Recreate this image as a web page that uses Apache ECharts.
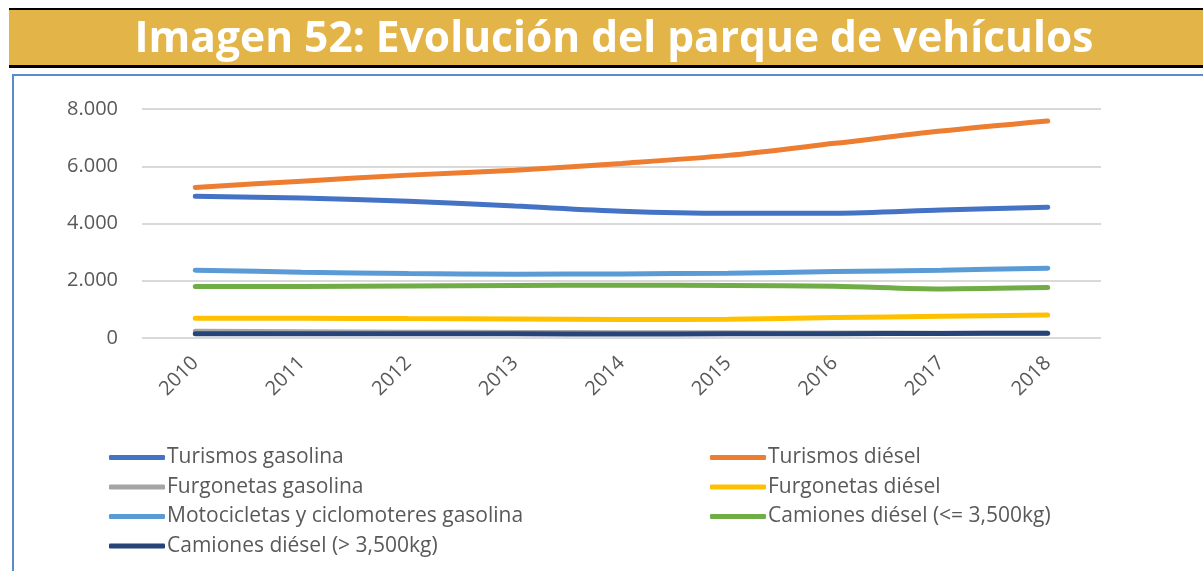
<!DOCTYPE html>
<html>
<head>
<meta charset="utf-8">
<script src="https://cdn.jsdelivr.net/npm/echarts@6/dist/echarts.min.js"></script>
<style>
  html, body { margin: 0; padding: 0; background: #ffffff; }
  #chart { width: 1203px; height: 571px; }
</style>
</head>
<body>
<div id="chart"></div>
<script>
// datos
var years = ['2010', '2011', '2012', '2013', '2014', '2015', '2016', '2017', '2018'];
var yTicks = [0, 2000, 4000, 6000, 8000];

var turismosGasolina = [4950, 4890, 4780, 4610, 4430, 4360, 4360, 4470, 4570];
var turismosDiesel = [5260, 5480, 5690, 5860, 6100, 6380, 6800, 7230, 7580];
var furgonetasGasolina = [235, 220, 205, 195, 185, 180, 175, 170, 165];
var furgonetasDiesel = [690, 690, 678, 666, 645, 655, 712, 760, 805];
var motocicletas = [2370, 2300, 2255, 2230, 2240, 2265, 2320, 2370, 2440];
var camionesLigeros = [1800, 1800, 1820, 1832, 1843, 1832, 1810, 1715, 1760];
var camionesPesados = [150, 150, 148, 145, 142, 145, 150, 160, 165];

var font = '"Open Sans", "Noto Sans", sans-serif';
var txt = '#595959';

function serie(name, data, color) {
  return {
    name: name,
    type: 'line',
    data: data,
    smooth: 0.3,
    symbol: 'none',
    lineStyle: { width: 5, color: color, cap: 'round' },
    itemStyle: { color: color }
  };
}

var legendBase = {
  orient: 'vertical',
  top: 442,
  itemWidth: 56,
  itemHeight: 5,
  itemGap: 8.5,
  icon: 'roundRect',
  textStyle: { fontFamily: font, fontSize: 21, color: txt, padding: [0, 0, 0, -3] }
};

var chart = echarts.init(document.getElementById('chart'));
chart.setOption({
  animation: false,
  backgroundColor: '#ffffff',
  graphic: [
    // franja del título
    { type: 'rect', shape: { x: 9, y: 8, width: 1200, height: 60 }, style: { fill: '#000000' } },
    { type: 'rect', shape: { x: 9, y: 10, width: 1200, height: 55 }, style: { fill: '#E3B448' } },
    {
      type: 'text', x: 614, y: 40,
      style: {
        text: 'Imagen 52: Evolución del parque de vehículos', fill: '#ffffff',
        font: 'bold 42.5px ' + font, textAlign: 'center', textVerticalAlign: 'middle'
      }
    },
    // marco del gráfico
    { type: 'rect', shape: { x: 13, y: 75, width: 1200, height: 510 }, style: { fill: 'none', stroke: '#5B8BCB', lineWidth: 2 } }
  ],
  grid: { left: 142, right: 102, top: 109, height: 229, containLabel: false },
  legend: [
    Object.assign({ left: 104, data: ['Turismos gasolina', 'Furgonetas gasolina', 'Motocicletas y ciclomoteres gasolina', 'Camiones diésel (> 3,500kg)'] }, legendBase),
    Object.assign({ left: 705, data: ['Turismos diésel', 'Furgonetas diésel', 'Camiones diésel (<= 3,500kg)'] }, legendBase)
  ],
  xAxis: {
    type: 'category',
    data: years,
    boundaryGap: true,
    axisLine: { show: false },
    axisTick: { show: false },
    axisLabel: { rotate: 45, margin: 22, fontFamily: font, fontSize: 20, color: txt }
  },
  yAxis: {
    type: 'value',
    min: yTicks[0],
    max: yTicks[yTicks.length - 1],
    interval: 2000,
    axisLine: { show: false },
    axisTick: { show: false },
    splitLine: { lineStyle: { color: '#D9D9D9', width: 2 } },
    axisLabel: {
      margin: 24, fontFamily: font, fontSize: 20, color: txt,
      formatter: function (v) { return v === 0 ? '0' : (v / 1000).toFixed(3); }
    }
  },
  series: [
    serie('Turismos gasolina', turismosGasolina, '#4472C4'),
    serie('Turismos diésel', turismosDiesel, '#ED7D31'),
    serie('Furgonetas gasolina', furgonetasGasolina, '#A5A5A5'),
    serie('Furgonetas diésel', furgonetasDiesel, '#FFC000'),
    serie('Motocicletas y ciclomoteres gasolina', motocicletas, '#5B9BD5'),
    serie('Camiones diésel (<= 3,500kg)', camionesLigeros, '#70AD47'),
    serie('Camiones diésel (> 3,500kg)', camionesPesados, '#264478')
  ]
});
</script>
</body>
</html>
